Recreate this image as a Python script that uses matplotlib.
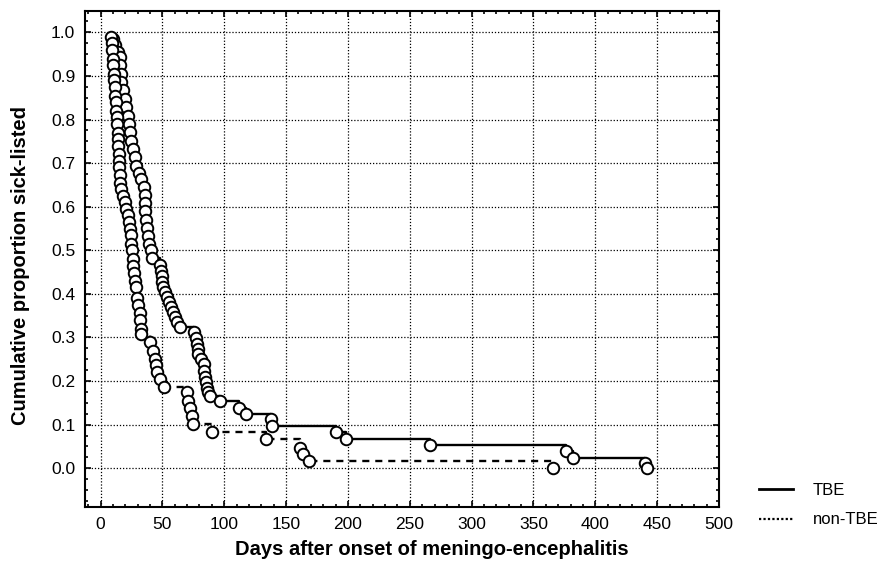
import matplotlib.pyplot as plt
from matplotlib.lines import Line2D
from matplotlib.ticker import MultipleLocator

plt.rcParams['font.family'] = ['Liberation Sans', 'DejaVu Sans']

# TBE group (solid line): days and cumulative proportion still sick-listed
tbe_days = [10, 12, 14.5, 15.5, 15.7, 16.3, 16.8, 18.2, 19.5, 20.9, 22.2, 22.8,
            23.6, 25, 26.3, 27.7, 29, 31, 33, 35.3, 35.6, 35.8, 36.1, 36.4,
            37.5, 38.5, 39.5, 40.5, 41.8, 48, 48.7, 49.4, 50, 50.7, 52, 53.5,
            55, 57, 58.5, 60.3, 62, 64.3, 75.2, 77, 77.9, 78.5, 79.2, 81, 83.3,
            84, 84.7, 85.3, 86, 87, 88.8, 96.3, 111.8, 117.3, 137.6, 139,
            190.5, 198.7, 266.5, 376.5, 382, 440.3, 441.6]
tbe_prop = [0.985, 0.97, 0.955, 0.944, 0.925, 0.905, 0.886, 0.867, 0.848, 0.828,
            0.809, 0.79, 0.771, 0.751, 0.732, 0.713, 0.694, 0.678, 0.663, 0.645,
            0.627, 0.609, 0.59, 0.57, 0.551, 0.532, 0.515, 0.5, 0.482, 0.466,
            0.452, 0.44, 0.428, 0.416, 0.404, 0.393, 0.381, 0.37, 0.358, 0.347,
            0.335, 0.324, 0.312, 0.298, 0.286, 0.274, 0.263, 0.251, 0.24, 0.224,
            0.209, 0.197, 0.185, 0.175, 0.166, 0.155, 0.139, 0.125, 0.112, 0.097,
            0.082, 0.066, 0.053, 0.039, 0.024, 0.012, 0.0]

# non-TBE group (dashed line)
non_days = [8.7, 9.2, 9.6, 10, 10.3, 10.6, 11, 11.4, 11.8, 12.2, 12.8, 13.0,
            13.4, 13.8, 14.2, 14.5, 14.7, 15.0, 15.3, 15.5, 15.6, 16.5, 18,
            19.5, 21, 22.2, 23, 23.6, 24.3, 25, 25.5, 25.9, 26.3, 27, 27.7,
            28.3, 29.2, 30.4, 31.8, 32.3, 32.6, 33.1, 40, 42.6, 44, 44.8, 45.3,
            48, 51.3, 69.8, 71, 72.5, 73.9, 75, 90, 133.5, 161.5, 163.4, 168.8,
            365.6]
non_prop = [0.99, 0.975, 0.96, 0.94, 0.925, 0.905, 0.89, 0.875, 0.855, 0.84,
            0.82, 0.805, 0.79, 0.77, 0.755, 0.74, 0.72, 0.705, 0.69, 0.672,
            0.655, 0.64, 0.625, 0.61, 0.595, 0.58, 0.565, 0.55, 0.535, 0.515,
            0.5, 0.48, 0.463, 0.447, 0.43, 0.415, 0.39, 0.374, 0.355, 0.339,
            0.32, 0.309, 0.289, 0.27, 0.251, 0.236, 0.22, 0.205, 0.187, 0.174,
            0.155, 0.139, 0.12, 0.102, 0.084, 0.066, 0.047, 0.032, 0.016, 0.0]

fig = plt.figure(figsize=(8.84, 5.74), dpi=100)
ax = fig.add_axes([0.0962, 0.1167, 0.7172, 0.8641])

mk = dict(marker='o', markersize=8.3, markerfacecolor='white',
          markeredgecolor='black', markeredgewidth=1.4, color='black')
ax.plot(tbe_days, tbe_prop, drawstyle='steps-post', linestyle='-',
        linewidth=1.7, zorder=3, **mk)
ax.plot(non_days, non_prop, drawstyle='steps-post', linestyle=(0, (3, 2.5)),
        linewidth=1.7, zorder=3, **mk)

ax.set_xlim(-12.5, 500)
ax.set_ylim(-0.089, 1.049)
ax.xaxis.set_major_locator(MultipleLocator(50))
ax.xaxis.set_minor_locator(MultipleLocator(10))
ax.yaxis.set_minor_locator(MultipleLocator(0.025))
ax.set_yticks([i / 10 for i in range(11)])
ax.set_yticklabels(['%.1f' % (i / 10) for i in range(11)])
ax.tick_params(which='both', direction='in', top=True, right=True,
               labelsize=12.5, width=1.2)
ax.tick_params(which='major', length=4, pad=7)
ax.tick_params(which='minor', length=2.5)
ax.grid(True, which='major', color='black', linestyle=(0, (1, 1.5)),
        linewidth=0.9)
for s in ax.spines.values():
    s.set_linewidth(1.5)

ax.set_xlabel('Days after onset of meningo-encephalitis', fontsize=14.5,
              fontweight='bold')
ax.set_ylabel('Cumulative proportion sick-listed', fontsize=14.5,
              fontweight='bold')
ax.xaxis.set_label_coords(0.547, -0.067)
ax.yaxis.set_label_coords(-0.087, 0.486)

handles = [Line2D([], [], color='black', linewidth=2, linestyle='-'),
           Line2D([], [], color='black', linewidth=1.6, linestyle=(0, (1, 1)))]
fig.legend(handles, ['TBE', 'non-TBE'], loc='lower left',
           bbox_to_anchor=(0.842, 0.055), frameon=False, fontsize=12,
           handlelength=2.0, labelspacing=0.85, handletextpad=1.2)

fig.savefig('out.png', dpi=100)
